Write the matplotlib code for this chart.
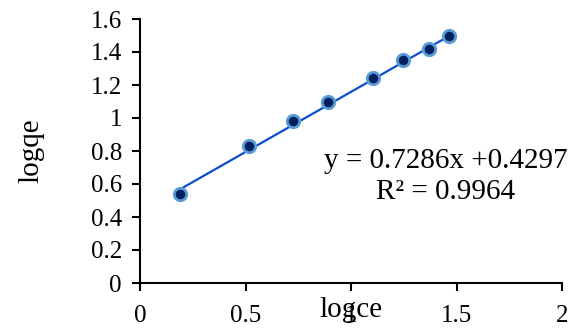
import matplotlib
matplotlib.use("Agg")
import matplotlib.pyplot as plt
import numpy as np

log_ce = [0.189, 0.518, 0.727, 0.89, 1.106, 1.248, 1.370, 1.466]
log_qe = [0.542, 0.832, 0.984, 1.094, 1.240, 1.349, 1.420, 1.494]
slope = 0.7286
intercept = 0.4297
r2 = 0.9964
x_ticks = [0, 0.5, 1, 1.5, 2]
y_ticks = [0, 0.2, 0.4, 0.6, 0.8, 1, 1.2, 1.4, 1.6]
x_tick_labels = ["0", "0.5", "1", "1.5", "2"]
y_tick_labels = ["0", "0.2", "0.4", "0.6", "0.8", "1", "1.2", "1.4", "1.6"]

plt.rcParams['font.family'] = ['Liberation Serif', 'DejaVu Serif']

fig = plt.figure(figsize=(5.7, 3.31), dpi=100)
ax = fig.add_axes([140/570, 1-283/331, 422/570, 264/331])

xs = np.array([min(log_ce), max(log_ce)])
ax.plot(xs, slope*xs + intercept, color='#0a4fd0', lw=1.6, zorder=2)
ax.scatter(log_ce, log_qe, s=80, facecolor='#002060', edgecolor='#5b9bd5',
           linewidth=2.0, zorder=3)

ax.set_xlim(0, 2)
ax.set_ylim(0, 1.6)
ax.set_xticks(x_ticks)
ax.set_xticklabels(x_tick_labels)
ax.set_yticks(y_ticks)
ax.set_yticklabels(y_tick_labels)
for s in ['top', 'right']:
    ax.spines[s].set_visible(False)
for s in ['left', 'bottom']:
    ax.spines[s].set_linewidth(1.5)
ax.tick_params(direction='out', length=6, width=1.5, labelsize=18)
ax.tick_params(axis='y', pad=7)
ax.tick_params(axis='x', pad=10)

ax.set_xlabel('logce', fontsize=21, labelpad=-22)
ax.set_ylabel('logqe', fontsize=21, labelpad=33)

ax.text(0.725, 0.405, f"y = {slope}x +{intercept}\nR² = {r2}", transform=ax.transAxes,
        ha='center', va='center', fontsize=21, linespacing=1.25)

fig.savefig('out.png', dpi=100)
